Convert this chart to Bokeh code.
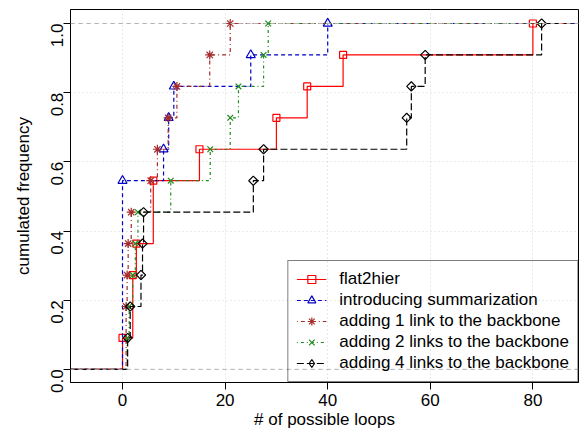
import numpy as np
from bokeh.plotting import figure
from bokeh.models import Range1d, FixedTicker, Span, Legend, LegendItem, NumeralTickFormatter
from bokeh.embed import file_html
from bokeh.resources import INLINE

# ---- data ----
series_names = [
    "flat2hier",
    "introducing summarization",
    "adding 1 link to the backbone",
    "adding 2 links to the backbone",
    "adding 4 links to the backbone",
]
flat2hier = [0.0, 2.0, 2.0, 2.7, 6.0, 6.0, 15.0, 30.0, 36.0, 43.0, 80.0]
summarization = [0.0, 0.0, 0.0, 0.0, 0.0, 0.0, 8.0, 9.0, 10.0, 25.0, 40.0]
one_link = [0.7, 0.7, 0.9, 1.1, 1.7, 5.5, 6.8, 8.9, 10.6, 17.0, 21.0]
two_links = [0.9, 1.3, 2.0, 2.5, 3.0, 9.4, 17.1, 21.0, 22.6, 27.5, 28.4]
four_links = [1.0, 1.5, 3.6, 3.9, 4.1, 25.5, 27.5, 55.4, 56.3, 59.0, 81.7]

x_ticks = [0, 20, 40, 60, 80]
y_ticks = [0.0, 0.2, 0.4, 0.6, 0.8, 1.0]

# ---- styles ----
colors = ["#FF0000", "#0000C8", "#A52A2A", "#1E8B1E", "#000000"]
dashes = ["solid", "4 3", "1 3 4 3", "1 3 3 3", "7 3"]
markers = ["square", "triangle", "asterisk", "x", "square"]
legend_markers = ["square", "triangle", "asterisk", "x", "diamond"]
msizes = [7, 9, 9, 8, 6.5]
angles = [0, 0, 0, 0, np.pi / 4]

FONT = "Liberation Sans"
FS = "17px"

x_range = Range1d(-10.14, 88.89)
y_range = Range1d(-0.038, 1.0405)

p = figure(width=579, height=433, output_backend="svg", toolbar_location=None,
           x_range=x_range, y_range=y_range,
           min_border_left=70, min_border_right=1, min_border_top=9, min_border_bottom=51)

p.background_fill_color = "white"
p.border_fill_color = "white"
p.outline_line_color = "black"
p.outline_line_width = 1

# grid
for g in (p.xgrid, p.ygrid):
    g.grid_line_color = "#D3D3D3"
    g.grid_line_dash = "1 3"
    g.grid_line_width = 1

# reference lines at 0 and 1
for lv in (0.0, 1.0):
    p.add_layout(Span(location=lv, dimension="width", line_color="#B3B3B3",
                      line_dash="4 4", line_width=1))

# axes
p.xaxis.ticker = FixedTicker(ticks=x_ticks)
p.yaxis.ticker = FixedTicker(ticks=y_ticks)
p.yaxis.formatter = NumeralTickFormatter(format="0.0")
p.xaxis.axis_label = "# of possible loops"
p.yaxis.axis_label = "cumulated frequency"
for ax in (p.xaxis, p.yaxis):
    ax.axis_line_color = "black"
    ax.major_tick_line_color = "black"
    ax.major_tick_out = 7
    ax.major_tick_in = 0
    ax.minor_tick_out = 0
    ax.minor_tick_in = 0
    ax.minor_tick_line_color = None
    ax.major_label_text_font = FONT
    ax.major_label_text_font_size = FS
    ax.major_label_text_color = "black"
    ax.axis_label_text_font = FONT
    ax.axis_label_text_font_size = FS
    ax.axis_label_text_font_style = "normal"
    ax.axis_label_text_color = "black"
p.xaxis.major_label_standoff = 4
p.xaxis.axis_label_standoff = 1
p.yaxis.major_label_standoff = 6
p.yaxis.axis_label_standoff = 10
p.yaxis.major_label_orientation = np.pi / 2


def ecdf(vals):
    v = np.sort(np.asarray(vals, dtype=float))
    u = np.unique(v)
    F = np.searchsorted(v, u, side="right") / len(v)
    return u, F


items = []
for name, vals, c, d, m, lm, s, a in zip(series_names,
                                         [flat2hier, summarization, one_link, two_links, four_links],
                                         colors, dashes, markers, legend_markers, msizes, angles):
    u, F = ecdf(vals)
    xs = np.concatenate([[x_range.start], u, [x_range.end]])
    ys = np.concatenate([[0.0], F, [1.0]])
    lr = p.step(xs, ys, mode="after", line_color=c, line_dash=d, line_width=1.2)
    sr = p.scatter(u, F, marker=m, size=s, angle=a, line_color=c, fill_color=None, line_width=1.2)
    if lm != m:
        # legend-only marker (R's diamond symbol)
        leg_r = p.scatter(u, F, marker=lm, size=s, line_color=c, fill_color=None,
                          line_width=1.2, visible=False)
        items.append(LegendItem(label=name, renderers=[lr, leg_r]))
    else:
        items.append(LegendItem(label=name, renderers=[lr, sr]))

legend = Legend(items=items, location="bottom_right")
legend.margin = 0
legend.padding = 8
legend.spacing = 1
legend.glyph_width = 30
legend.glyph_height = 20
legend.label_height = 20
legend.label_standoff = 13
legend.label_text_font = FONT
legend.label_text_font_size = FS
legend.label_text_color = "black"
legend.border_line_color = "black"
legend.border_line_width = 1
legend.background_fill_alpha = 0
p.add_layout(legend, "center")

open("out.html", "w").write(file_html(p, INLINE))
